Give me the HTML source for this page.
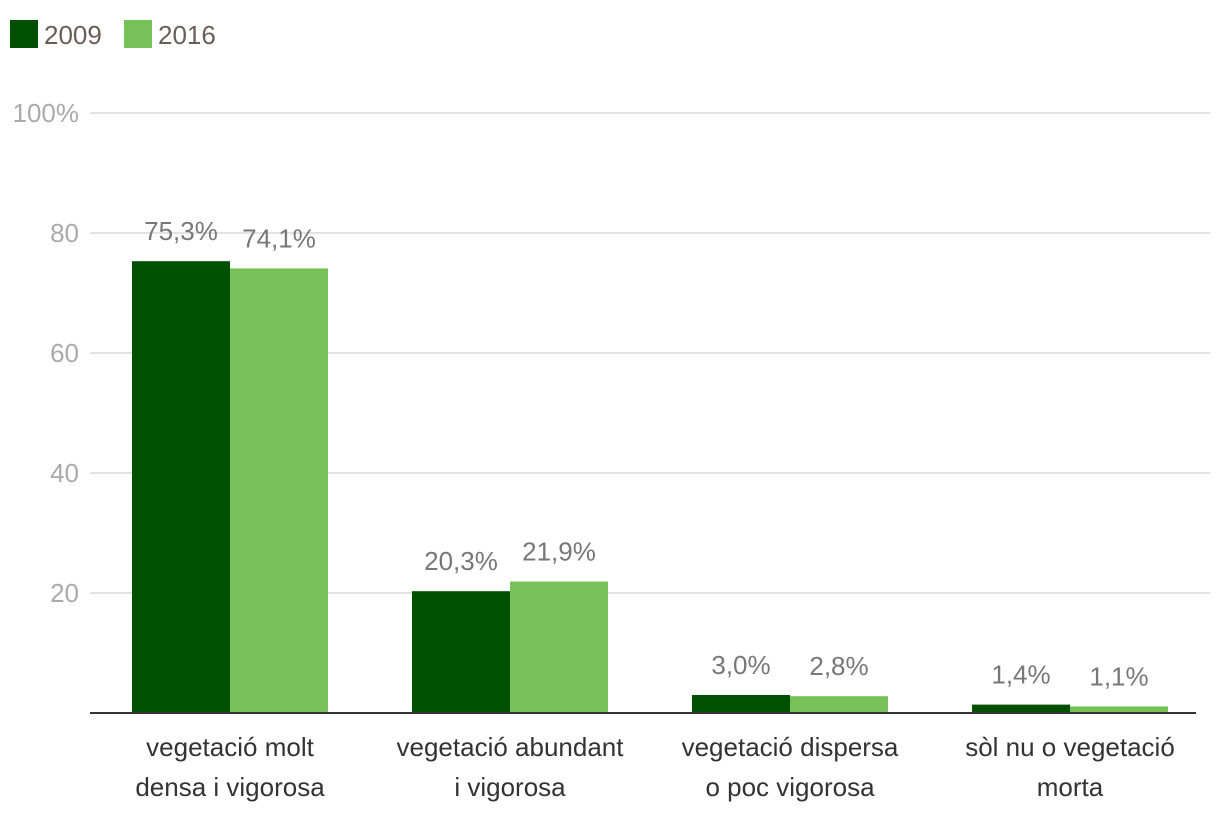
<!DOCTYPE html>
<html><head><meta charset="utf-8"><style>
body{margin:0;background:#fff;}
svg{display:block;font-family:"Liberation Sans",sans-serif;}
</style></head><body>
<svg id="chart" width="1220" height="830">
<g id="legend">
<rect x="10" y="20" width="28" height="28" fill="#005000"/>
<text x="44" y="44" font-size="26" fill="#6b5e55">2009</text>
<rect x="124" y="20" width="28" height="28" fill="#77c159"/>
<text x="158" y="44" font-size="26" fill="#6b5e55">2016</text>
</g>
<g id="grid"></g><g id="bars"></g><g id="labels"></g>
</svg>
<script>
const categories=[["vegetació molt","densa i vigorosa"],["vegetació abundant","i vigorosa"],["vegetació dispersa","o poc vigorosa"],["sòl nu o vegetació","morta"]];
const series2009=[75.3,20.3,3.0,1.4];
const series2016=[74.1,21.9,2.8,1.1];
const valueLabels2009=["75,3%","20,3%","3,0%","1,4%"];
const valueLabels2016=["74,1%","21,9%","2,8%","1,1%"];
const yTicks=[0,20,40,60,80,100];
const yTickLabels=["","20","40","60","80","100%"];
const NS="http://www.w3.org/2000/svg";
const x0=90,x1=1210,y0=713,y1=113;
const y=v=>y0-(v/100)*(y0-y1);
const band=(x1-x0)/categories.length;
const bw=98;
function mk(tag,attrs,parent,txt){const e=document.createElementNS(NS,tag);for(const k in attrs)e.setAttribute(k,attrs[k]);if(txt!=null)e.textContent=txt;parent.appendChild(e);return e;}
const grid=document.getElementById('grid'),bars=document.getElementById('bars'),labels=document.getElementById('labels');
yTicks.forEach((t,i)=>{
 if(t>0){const l=mk('line',{x1:x0,x2:x1,y1:y(t),y2:y(t),stroke:'#e3e3e3','stroke-width':2},grid);
 
 }
 if(yTickLabels[i]){const tx=mk('text',{x:79,y:y(t)+9,'text-anchor':'end','font-size':26,fill:'#aaaaaa'},labels,yTickLabels[i]);
 
 }
});
categories.forEach((c,i)=>{
 const cx=x0+band*(i+0.5);
 [[series2009,valueLabels2009,'#005000',cx-bw,'2009'],[series2016,valueLabels2016,'#77c159',cx,'2016']].forEach(([s,lab,col,bx,yr])=>{
  const r=mk('rect',{x:bx,y:y(s[i]),width:bw,height:y0-y(s[i]),fill:col},bars);
  
  
  const t=mk('text',{x:bx+bw/2,y:y(s[i])-21,'text-anchor':'middle','font-size':26,fill:'#777777'},labels,lab[i]);
  
  
 });
 c.forEach((line,j)=>{
  const t=mk('text',{x:cx,y:756+j*40,'text-anchor':'middle','font-size':26,fill:'#333333'},labels,line);
  
  
 });
});
const ax=mk('line',{x1:x0,x2:1196,y1:y0,y2:y0,stroke:'#333','stroke-width':2},labels);


</script>
</body></html>
